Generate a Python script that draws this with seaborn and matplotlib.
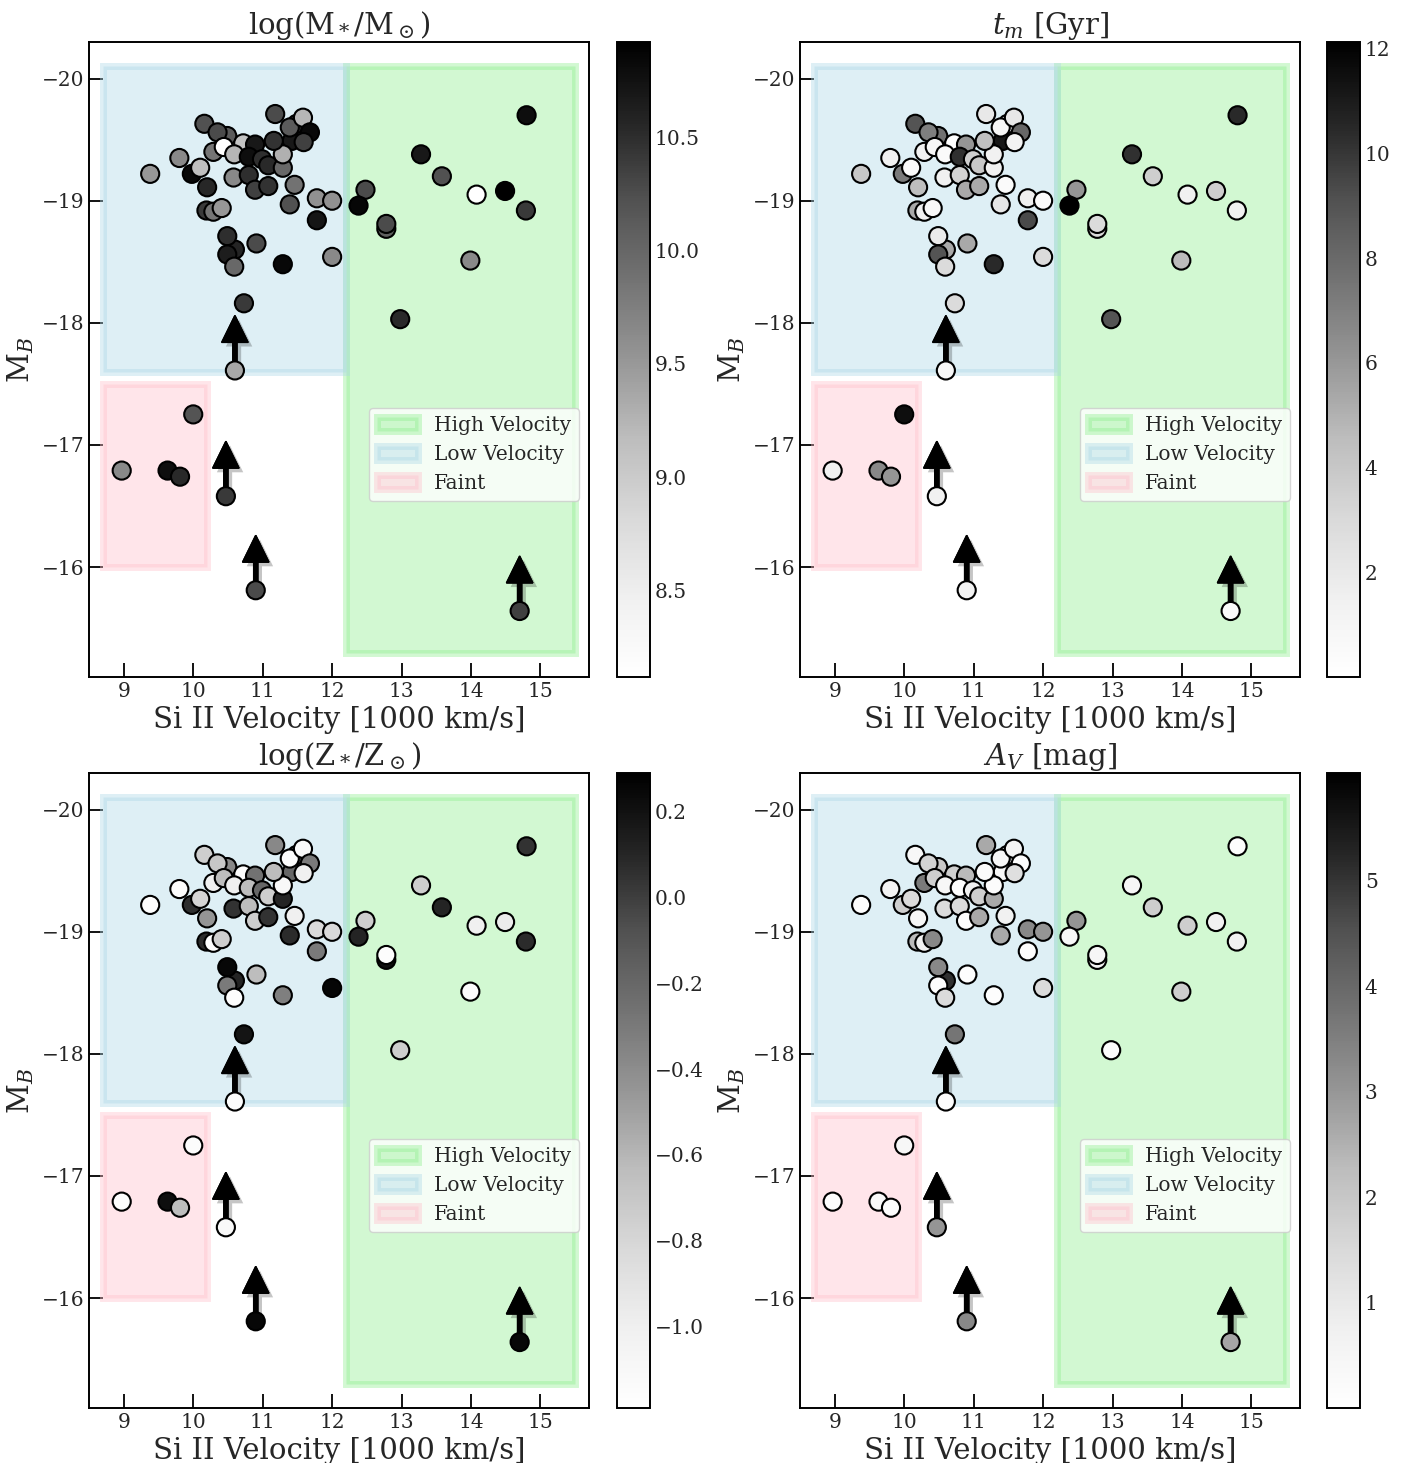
"""
Si II velocity vs. peak B magnitude, coloured by host-galaxy properties.
Four panels: stellar mass, mass-weighted age, metallicity, dust extinction.
"""

import numpy as np
import pandas as pd
import matplotlib
matplotlib.use("Agg")
import matplotlib.pyplot as plt
import matplotlib.patches as mpatches
import matplotlib.patheffects as pe
import seaborn as sns

sns.set_theme(style="white")
plt.rcParams["font.family"] = ["DejaVu Serif"]
plt.rcParams["mathtext.fontset"] = "dejavuserif"

# ── Data ─────────────────────────────────────────────────────────────────────
vsi = [9.98, 10.49, 10.72, 11.49, 11.42, 10.19, 10.60, 12.78,
       9.38, 9.80, 10.10, 10.20, 10.16, 10.35, 10.29, 10.44, 10.59, 10.89,
       10.80, 10.58, 10.80, 10.99, 11.08, 10.89, 11.08, 11.29, 11.29, 11.16,
       11.18, 11.39, 11.58, 11.68, 11.59, 11.46, 11.39, 11.78, 12.00, 11.78,
       10.29, 10.41, 10.49, 10.49, 10.59, 10.91, 11.29, 12.00, 10.73,
       14.80, 13.28, 13.58, 14.08, 14.49, 14.79, 12.48, 12.38, 12.78, 13.99, 12.98,
       8.97, 9.63, 9.81, 10.00,
       10.60, 10.47, 10.90, 14.70]
mag_b = [-19.22, -19.53, -19.47, -19.63, -19.49, -18.92, -18.60, -18.77,
         -19.22, -19.35, -19.27, -19.11, -19.63, -19.56, -19.40, -19.44, -19.38, -19.46,
         -19.36, -19.19, -19.21, -19.34, -19.29, -19.09, -19.12, -19.27, -19.38, -19.49,
         -19.71, -19.60, -19.68, -19.56, -19.48, -19.13, -18.97, -19.02, -19.00, -18.84,
         -18.91, -18.94, -18.71, -18.56, -18.46, -18.65, -18.48, -18.54, -18.16,
         -19.70, -19.38, -19.20, -19.05, -19.08, -18.92, -19.09, -18.96, -18.81, -18.51, -18.03,
         -16.79, -16.79, -16.74, -17.25,
         -17.61, -16.58, -15.81, -15.64]

log_mass = [10.84, 10.13, 9.09, 10.53, 10.69, 10.41, 10.58, 10.07,
            9.51, 9.65, 9.14, 10.55, 10.22, 10.27, 9.85, 8.16, 9.23, 10.69,
            10.78, 9.65, 10.50, 10.50, 10.53, 10.36, 10.47, 9.99, 9.28, 10.47,
            10.27, 10.13, 9.23, 10.84, 10.36, 9.88, 10.22, 9.57, 9.57, 10.72,
            9.85, 9.51, 10.50, 10.64, 9.99, 10.27, 10.84, 9.65, 10.41,
            10.78, 10.69, 10.22, 8.10, 10.92, 10.41, 10.27, 10.86, 10.27, 9.65, 10.53,
            9.65, 10.78, 10.53, 10.19,
            9.37, 10.41, 10.27, 10.36]
age_gyr = [7.28, 7.64, 0.05, 0.97, 11.16, 5.34, 5.34, 2.91,
           4.00, 1.46, 0.49, 4.49, 8.98, 7.04, 1.46, 0.97, 0.49, 6.07,
           10.19, 1.46, 3.40, 3.64, 4.00, 5.34, 5.34, 1.46, 1.46, 4.37,
           2.06, 0.97, 2.06, 8.13, 1.21, 0.49, 2.18, 1.58, 0.49, 9.34,
           1.46, 0.73, 1.94, 8.98, 2.91, 5.34, 10.43, 2.91, 2.91,
           10.43, 10.19, 3.64, 1.46, 3.64, 1.46, 6.07, 12.13, 2.91, 4.61, 8.98,
           1.46, 6.67, 6.07, 11.52,
           0.97, 1.46, 1.21, 0.49]
log_z = [0.07, -0.38, -1.15, -0.01, -0.20, 0.08, 0.11, 0.22,
         -1.16, -1.15, -0.78, -0.45, -0.75, -0.70, -1.01, -0.63, -1.01, -0.26,
         -0.63, 0.05, -0.63, -0.20, -0.75, -0.75, 0.05, 0.11, -1.10, -0.63,
         -0.38, -1.15, -1.13, -0.30, -1.01, -1.01, 0.08, -0.83, -0.83, -0.30,
         -1.16, -0.75, 0.25, -0.30, -1.16, -0.63, -0.33, 0.26, 0.19,
         0.05, -0.75, 0.11, -1.01, -0.97, 0.08, -0.75, 0.11, -1.16, -1.15, -0.75,
         -1.16, 0.22, -0.63, -1.15,
         -1.15, -1.12, 0.25, 0.25]
a_v = [1.81, 1.93, 1.81, 1.20, 0.42, 2.29, 5.06, 0.60,
       0.12, 0.60, 1.44, 0.42, 0.42, 1.69, 3.61, 1.81, 0.42, 2.29,
       0.12, 1.44, 1.44, 0.72, 1.81, 0.12, 2.65, 2.65, 0.18, 0.24,
       2.65, 0.42, 0.60, 0.18, 1.32, 0.72, 2.65, 3.31, 3.01, 0.12,
       0.72, 3.31, 3.31, 0.12, 1.44, 0.12, 0.12, 1.44, 3.73,
       0.12, 0.48, 1.81, 1.81, 0.72, 0.72, 3.01, 0.42, 0.48, 1.81, 0.18,
       0.12, 0.30, 0.18, 0.42,
       0.18, 3.01, 3.31, 2.71]

# lower limits on brightness
limit_v = [10.60, 10.47, 10.90, 14.70]
limit_mb = [-17.61, -16.58, -15.81, -15.64]

df = pd.DataFrame({"vsi": vsi, "mb": mag_b, "mass": log_mass,
                   "age": age_gyr, "met": log_z, "av": a_v})

panels = [
    ("mass", r"log(M$_*$/M$_\odot$)", (8.12, 10.92), [8.5, 9.0, 9.5, 10.0, 10.5]),
    ("age", r"$t_m$ [Gyr]", (0.0, 12.13), [2, 4, 6, 8, 10, 12]),
    ("met", r"log(Z$_*$/Z$_\odot$)", (-1.19, 0.29), [-1.0, -0.8, -0.6, -0.4, -0.2, 0.0, 0.2]),
    ("av", r"$A_V$ [mag]", (0.0, 6.02), [1, 2, 3, 4, 5]),
]

# ── Figure ───────────────────────────────────────────────────────────────────
fig = plt.figure(figsize=(14.07, 14.63), dpi=100)
ax_pos = [(0.0633, 0.5373), (0.5686, 0.5373), (0.0633, 0.0376), (0.5686, 0.0376)]
cb_left = [0.4385, 0.9431, 0.4385, 0.9431]
W, H = 0.3554, 0.434

for i, (col, title, (vmin, vmax), cticks) in enumerate(panels):
    ax = fig.add_axes([ax_pos[i][0], ax_pos[i][1], W, H])
    cax = fig.add_axes([cb_left[i], ax_pos[i][1], 0.0235, H])

    # class regions
    high = mpatches.Rectangle((12.2, -20.1), 3.3, 4.8, facecolor="lightgreen",
                              edgecolor="lightgreen", lw=5, alpha=0.4, zorder=1,
                              label="High Velocity")
    low = mpatches.Rectangle((8.7, -20.1), 3.5, 2.5, facecolor="lightblue",
                             edgecolor="lightblue", lw=5, alpha=0.4, zorder=1,
                             label="Low Velocity")
    faint = mpatches.Rectangle((8.7, -17.5), 1.5, 1.5, facecolor="pink",
                               edgecolor="pink", lw=5, alpha=0.4, zorder=1,
                               label="Faint")
    for r in (high, low, faint):
        ax.add_patch(r)

    for xv, yv in zip(limit_v, limit_mb):
        ax.arrow(xv, yv, 0, -0.45, width=0.06, head_width=0.38, head_length=0.22,
                 length_includes_head=True, fc="black", ec="black", zorder=2,
                 path_effects=[pe.withSimplePatchShadow(offset=(3, -3), shadow_rgbFace="k",
                                                        alpha=0.25), pe.Normal()])

    sns.scatterplot(data=df, x="vsi", y="mb", hue=col, palette="Greys",
                    hue_norm=(vmin, vmax), s=170, edgecolor="black", linewidth=1.5,
                    legend=False, ax=ax, zorder=3)

    ax.set_xlim(8.5, 15.7)
    ax.set_ylim(-15.1, -20.3)
    ax.set_xticks([9, 10, 11, 12, 13, 14, 15])
    ax.set_yticks([-20, -19, -18, -17, -16])
    ax.tick_params(direction="in", length=10, width=1.3, labelsize=14.5,
                   left=True, bottom=True, color="black")
    for sp in ax.spines.values():
        sp.set_color("black")
        sp.set_linewidth(1.4)
    ax.set_xlabel("Si II Velocity [1000 km/s]", fontsize=21)
    ax.set_ylabel(r"M$_B$", fontsize=21)
    ax.set_title(title, fontsize=21)
    ax.legend(handles=[high, low, faint], loc="center right",
              bbox_to_anchor=(1.0, 0.35), fontsize=14.5)

    sm = plt.cm.ScalarMappable(cmap="Greys", norm=plt.Normalize(vmin, vmax))
    cb = fig.colorbar(sm, cax=cax)
    cb.set_ticks(cticks)
    cb.ax.tick_params(direction="in", length=10, width=1.3, labelsize=14.5)
    cb.outline.set_edgecolor("black")
    cb.outline.set_linewidth(1.4)

fig.savefig("out.png", dpi=100)
